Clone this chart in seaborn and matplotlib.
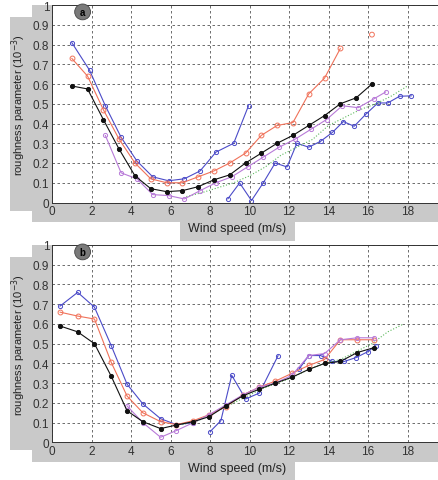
import numpy as np
import matplotlib
matplotlib.use("Agg")
import matplotlib.pyplot as plt
import seaborn as sns
from matplotlib.patches import Rectangle

# ---- data ----
# panel a
x_a = [1.0, 1.8, 2.6, 3.4, 4.2, 5.0, 5.8, 6.6, 7.4, 8.2, 9.0, 9.8,
       10.6, 11.4, 12.2, 13.0, 13.8, 14.6]
black_a = [0.59, 0.575, 0.42, 0.27, 0.135, 0.07, 0.055, 0.06, 0.08, 0.115,
           0.14, 0.2, 0.25, 0.3, 0.34, 0.39, 0.44, 0.5]
black_a_x_end = [15.4, 16.2]
black_a_end = [0.53, 0.6]
red_a = [0.73, 0.64, 0.47, 0.32, 0.2, 0.12, 0.10, 0.10, 0.13, 0.16,
         0.2, 0.25, 0.34, 0.39, 0.405, 0.55, 0.63, 0.78]
red_a_lone_x = [16.2]
red_a_lone = [0.85]
blue1_a_x = [1.0, 1.9, 2.7, 3.5, 4.3, 5.1, 5.9, 6.7, 7.5, 8.3, 9.2, 9.95]
blue1_a = [0.81, 0.67, 0.49, 0.33, 0.21, 0.13, 0.11, 0.12, 0.16, 0.255, 0.30, 0.49]
blue2_a_x = [8.9, 9.5, 10.1, 10.7, 11.3, 11.9, 12.4, 13.0, 13.6, 14.2,
             14.75, 15.3, 15.9, 16.5, 17.0, 17.6, 18.2]
blue2_a = [0.018, 0.099, 0.01, 0.10, 0.2, 0.18, 0.3, 0.28, 0.31, 0.355,
           0.41, 0.386, 0.448, 0.504, 0.504, 0.538, 0.54]
purple_a_x = [2.7, 3.5, 4.3, 5.1, 5.9, 6.7, 7.5, 8.3, 9.1, 9.9, 10.7,
              11.5, 12.3, 13.1, 13.9, 14.7, 15.5, 16.3, 16.9]
purple_a = [0.34, 0.15, 0.12, 0.04, 0.035, 0.018, 0.06, 0.1, 0.13, 0.18,
            0.23, 0.28, 0.32, 0.37, 0.42, 0.49, 0.48, 0.525, 0.56]
green_a_x = [6.8, 7.6, 8.4, 9.2, 10.0, 10.8, 11.6, 12.4, 13.2, 14.0,
             14.8, 15.6, 16.4, 17.2, 18.0]
green_a = [0.03, 0.05, 0.075, 0.10, 0.135, 0.18, 0.24, 0.28, 0.32, 0.39,
           0.43, 0.47, 0.50, 0.54, 0.59]

# panel b
x_b = [0.4, 1.3, 2.15, 3.0, 3.8, 4.6, 5.5, 6.3, 7.15, 7.95, 8.8, 9.65,
       10.5, 11.3, 12.15, 13.0, 13.8, 14.6, 15.45, 16.3]
black_b = [0.59, 0.56, 0.50, 0.335, 0.16, 0.105, 0.07, 0.088, 0.105, 0.13,
           0.185, 0.235, 0.27, 0.30, 0.33, 0.37, 0.40, 0.41, 0.455, 0.48]
red_b = [0.66, 0.64, 0.625, 0.405, 0.235, 0.15, 0.105, 0.09, 0.11, 0.14,
         0.18, 0.24, 0.28, 0.31, 0.35, 0.39, 0.42, 0.52, 0.52, 0.52]
purple_b_x = x_b[4:]
purple_b = [0.185, 0.10, 0.026, 0.06, 0.10, 0.14, 0.19, 0.24, 0.28, 0.30,
            0.34, 0.44, 0.45, 0.52, 0.53, 0.53]
blue1_b_x = x_b[:9]
blue1_b = [0.69, 0.76, 0.685, 0.49, 0.295, 0.195, 0.12, 0.09, 0.10]
blue2_b_x = [8.0, 8.55, 9.1, 9.8, 10.5, 11.45]
blue2_b = [0.054, 0.11, 0.34, 0.22, 0.25, 0.44]
blue3_b_x = [12.5, 13.0, 13.6, 14.2, 14.8, 15.4, 16.0, 16.4]
blue3_b = [0.37, 0.44, 0.44, 0.41, 0.41, 0.43, 0.46, 0.49]
green_b_x = [6.6, 7.4, 8.2, 9.0, 9.8, 10.6, 11.4, 12.2, 13.0, 13.8,
             14.6, 15.4, 16.2, 17.0, 17.8]
green_b = [0.09, 0.11, 0.15, 0.19, 0.23, 0.27, 0.30, 0.33, 0.37, 0.40,
           0.42, 0.46, 0.50, 0.56, 0.60]

x_ticks = list(range(0, 21, 2))
y_ticks = [0, 0.1, 0.2, 0.3, 0.4, 0.5, 0.6, 0.7, 0.8, 0.9, 1]
y_tick_labels = ["0", "0.1", "0.2", "0.3", "0.4", "0.5", "0.6", "0.7", "0.8", "0.9", "1"]

BLUE = "#4b4bc8"
RED = "#f0725a"
BLACK = "#111111"
PURPLE = "#b87ad8"
GREEN = "#5cb85c"
GRAY = "#c9c9c9"

sns.set_style("white")
plt.rcParams["font.family"] = ["Liberation Sans", "DejaVu Sans"]

W, H = 439, 481
fig = plt.figure(figsize=(W / 100, H / 100), dpi=100)


def px_rect(x0, y0, x1, y1):
    # rectangle given in pixel coords (origin top-left), drawn under the axes
    fig.patches.append(Rectangle((x0 / W, 1 - y1 / H), (x1 - x0) / W, (y1 - y0) / H,
                                 transform=fig.transFigure, facecolor=GRAY,
                                 edgecolor="none", zorder=-5))


def line(ax, x, y, color, marker, ms, mfc=None, ls="-"):
    sns.lineplot(x=x, y=y, ax=ax, color=color, lw=0.8, linestyle=ls,
                 marker=marker, markersize=ms, markerfacecolor=mfc or "none",
                 markeredgecolor=color, markeredgewidth=0.7, sort=False)


panels = [
    ("a", 6.0, 203.5),
    ("b", 246.0, 443.4),
]

for letter, top, bottom in panels:
    # gray patches around the axes (matlab figure look)
    px_rect(32, top, 53, bottom)
    px_rect(10, top + 12, 32, bottom + 8)
    px_rect(32, bottom, W, bottom + 19.5)
    px_rect(180, bottom + 19.5, 295, min(bottom + 38, H))

    ax = fig.add_axes([52 / W, 1 - bottom / H, 395 / W, (bottom - top) / H])
    ax.set_facecolor("white")

    if letter == "a":
        line(ax, blue1_a_x, blue1_a, BLUE, "o", 3)
        line(ax, blue2_a_x, blue2_a, BLUE, "o", 3)
        line(ax, x_a, red_a, RED, "o", 3.5)
        sns.scatterplot(x=red_a_lone_x, y=red_a_lone, ax=ax, marker="o", s=12,
                        facecolor="none", edgecolor=RED, linewidth=0.7)
        line(ax, green_a_x, green_a, GREEN, None, 0, ls=":")
        line(ax, purple_a_x, purple_a, PURPLE, "o", 3)
        line(ax, x_a + black_a_x_end, black_a + black_a_end, BLACK, "o", 3, mfc=BLACK)
    else:
        line(ax, blue1_b_x, blue1_b, BLUE, "o", 3)
        line(ax, blue2_b_x, blue2_b, BLUE, "o", 3)
        line(ax, blue3_b_x, blue3_b, BLUE, "o", 3)
        line(ax, green_b_x, green_b, GREEN, None, 0, ls=":")
        line(ax, x_b, red_b, RED, "o", 3.5)
        line(ax, purple_b_x, purple_b, PURPLE, "o", 3)
        line(ax, x_b, black_b, BLACK, "o", 3, mfc=BLACK)

    ax.set_xlim(0, 20)
    ax.set_ylim(0, 1)
    ax.set_xticks(x_ticks)
    ax.set_yticks(y_ticks)
    ax.set_yticklabels(y_tick_labels)
    ax.tick_params(direction="in", length=3, width=0.6, labelsize=8.5,
                   colors="#333333", pad=2)
    ax.grid(True, color="#555555", linestyle=(0, (3, 3)), linewidth=0.6)
    for s in ax.spines.values():
        s.set_color("#333333")
        s.set_linewidth(0.7)
    ax.set_xlabel("Wind speed (m/s)", fontsize=9, color="#222222")
    ax.xaxis.set_label_coords(0.468, -0.1)
    ax.set_ylabel("roughness parameter (10$^{-3}$)", fontsize=8,
                  color="#222222")
    ax.yaxis.set_label_coords(-0.06, 0.5)
    ax.text(1.55, 0.965, letter, fontsize=7, fontweight="bold", ha="center",
            va="center", color="black",
            bbox=dict(boxstyle="circle,pad=0.3", facecolor="#7a7a7a",
                      edgecolor="#444444", linewidth=0.6))

fig.savefig("out.png", dpi=100)
